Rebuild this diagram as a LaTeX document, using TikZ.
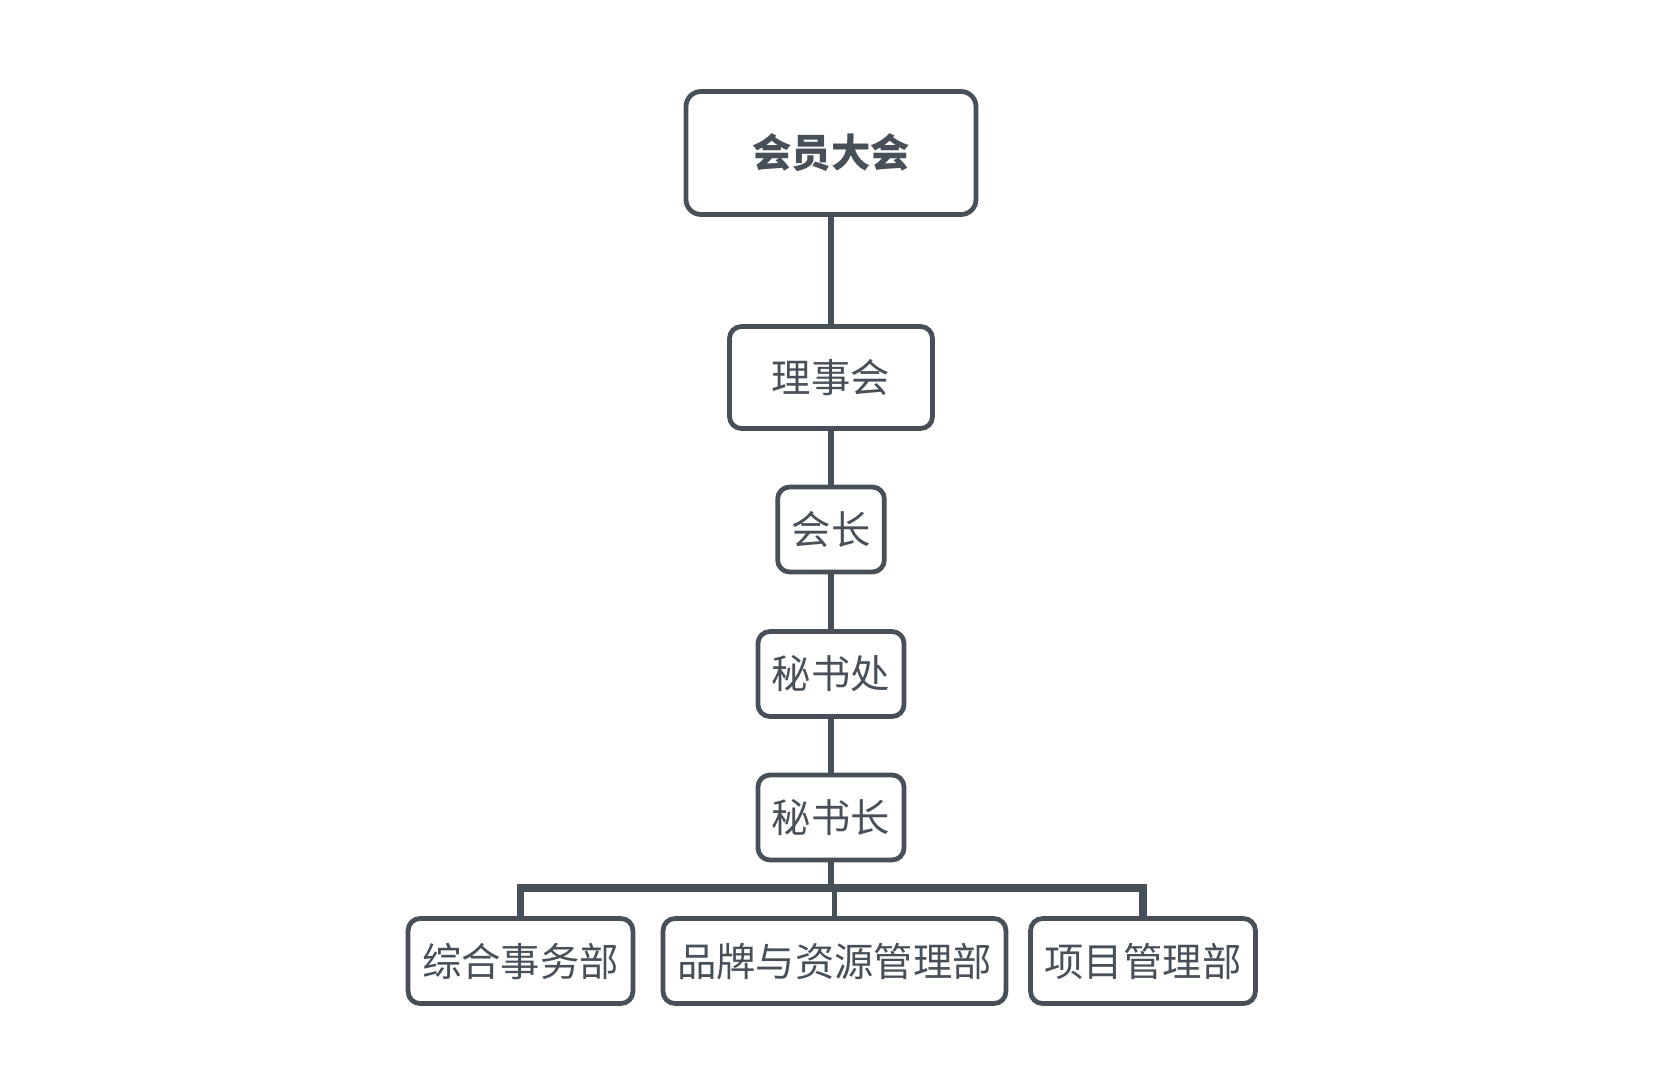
\documentclass[tikz,border=0pt]{standalone}
\usepackage{fontspec}
\newfontfamily\cjk{Noto Sans CJK SC}
\usetikzlibrary{calc}
\definecolor{slate}{RGB}{71,80,89}

\begin{document}
\begin{tikzpicture}[
  box/.style={rectangle, draw=slate, line width=1.35pt, rounded corners=0.12cm,
    text=slate, font=\cjk\fontsize{11.2}{13}\selectfont,
    inner xsep=0.14cm, minimum height=0.85cm},
  link/.style={draw=slate, line width=1.7pt}
]
  \useasboundingbox (0, 0) rectangle (16.62, -10.82);
  \node (hy) [box, minimum width=2.9cm, minimum height=1.23cm,
    rounded corners=0.15cm, font=\cjk\bfseries\fontsize{11.2}{13}\selectfont]
    at (8.31, -1.53) {会员大会};
  \node (lsh) [box, minimum width=2.03cm, minimum height=1.02cm] at (8.31, -3.775) {理事会};
  \node (hz) [box] at (8.31, -5.295) {会长};
  \node (msc) [box] at (8.31, -6.74) {秘书处};
  \node (msz) [box] at (8.31, -8.175) {秘书长};
  \node (zh) [box] at (5.205, -9.61) {综合事务部};
  \node (pp) [box] at (8.345, -9.61) {品牌与资源管理部};
  \node (xm) [box] at (11.43, -9.61) {项目管理部};
  \coordinate (bus) at (8.31, -8.88);
  \draw[link] (hy) -- (lsh);
  \draw[link] (lsh) -- (hz);
  \draw[link] (hz) -- (msc);
  \draw[link] (msc) -- (msz);
  \draw[link] (msz) -- (bus);
  \draw[link, line width=2.1pt] (zh.north) |- (bus) -| (xm.north);
  \draw[link] (pp.north) -- (pp.north|-bus);
\end{tikzpicture}
\end{document}
